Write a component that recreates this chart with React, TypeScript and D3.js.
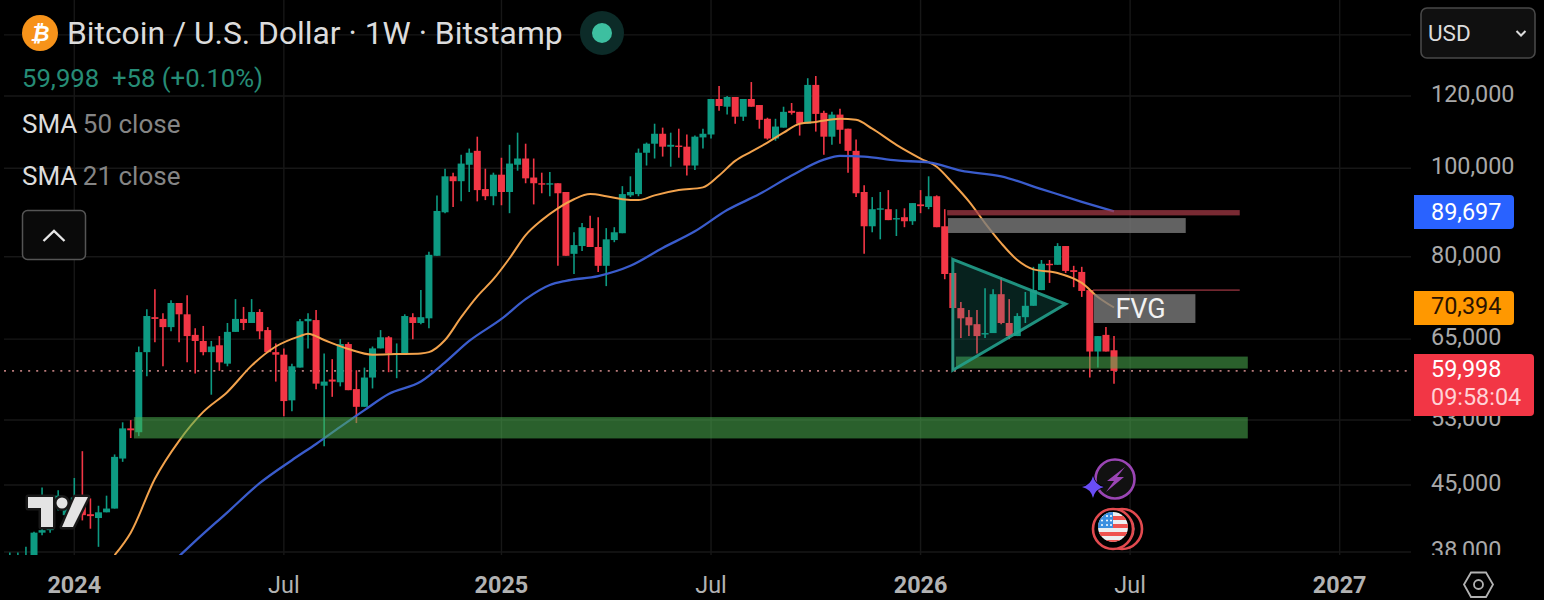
import React from "react";
import * as d3 from "d3";

// Weekly candles, first week shown is index -3
const firstWeek = -3;
const opens = [37000,37000,37000,36300,39900,40150,42700,41700,42700,43600,41800,41400,42000,42400,48100,51900,51400,62900,68700,68400,67000,71200,69200,65700,64700,62900,64000,61100,66200,68400,67700,69600,66500,62900,62500,55700,60500,68000,68200,57800,58700,58300,64200,57300,54800,59000,63500,65300,62500,62700,68700,67700,68500,80200,89500,98000,96800,100900,104500,94900,93200,98400,94200,100900,102500,97700,96300,96100,96300,94200,80600,82200,86000,82000,78200,83450,84900,93400,93700,104000,106400,109100,105600,105900,105600,100700,108100,108900,119100,116800,119700,113900,119100,117300,113300,107800,110800,115600,115300,111900,123400,115000,108300,114500,110500,104500,94200,86400,90200,90200,88000,88400,87500,91300,90700,93200,86400,76800,70300,68700,67500,65900,66000,72800,67700,65500,68700,70700,73550,78600,78400,82200,77350,77000,73550,63000,65700,63200];
const highs = [37950,37950,38500,40000,44700,43300,44400,43600,45800,49000,43500,42700,43800,48600,52700,53000,63800,70100,73700,69400,71700,71200,72600,66800,67200,64700,65500,67700,71900,70500,71900,70100,67000,64300,63500,61100,68400,69400,69950,62700,61800,65000,64500,60100,60500,63800,66500,65500,64300,69200,69400,73550,81000,93400,99900,98900,103500,105100,108300,99900,98900,102700,106100,109400,106400,102500,98900,99100,96300,94200,85100,87100,88700,88400,86000,86200,95600,98000,105100,106700,111900,110800,109400,110500,108900,108600,110500,119100,123100,120000,119700,119100,124300,117300,113600,113300,116800,117900,115300,125500,126200,115600,115300,116200,110500,107500,95800,93000,94200,94650,90200,90400,91600,94650,98000,93400,90200,76800,71400,69950,69950,73900,73700,76000,71900,69400,73200,78000,79350,79350,82800,82200,78200,78000,73550,65500,67000,65500];
const lows = [36500,36500,36800,35400,39650,39900,42200,41150,42200,41150,40300,38500,42000,42400,47700,50650,50900,59200,64500,60700,66300,64500,61300,59600,62400,56500,60000,60700,66200,66500,67700,65000,62900,58400,53500,54200,60500,63500,57300,49600,56200,57700,57150,52600,54800,57400,63500,59800,58900,62500,65000,67500,66800,80200,89300,90700,92000,94200,92000,92300,91100,91100,89300,99400,96300,91300,93900,93200,78200,80200,76600,81200,82000,77000,74300,83000,84900,93000,93200,100700,102500,103000,100400,102700,98200,99600,105100,107800,115600,114500,111900,112700,116800,110500,107500,107200,110800,114500,108600,111900,109700,103500,106100,106400,98900,93000,80600,85100,83600,87750,84300,86200,86700,89300,90200,86200,75600,60100,65200,65500,62700,65200,66000,67500,65000,65500,67700,70700,73550,74900,78400,76800,74100,72300,59000,60500,63000,58100];
const closes = [37600,37600,37500,39900,40150,42700,43800,42700,43600,41700,41600,42000,42400,48300,51900,51650,62900,68900,68400,67000,71200,69200,65500,64700,62900,63800,61300,66200,68400,67700,69600,66300,62900,62500,55600,60700,68000,68400,58100,58400,58400,64200,57150,54800,59000,63500,65300,62700,62700,68900,67700,68700,80400,89800,98000,96800,101200,104000,94650,93200,98400,94200,101200,102500,97500,96300,96100,96300,93900,80200,82400,86200,82000,78200,83600,85100,93700,94200,104000,106400,109100,105600,106100,105600,100700,108300,109100,119100,117000,119700,113900,119100,116800,113000,107800,111100,115300,115000,111900,123400,114700,108300,114500,110200,104500,93900,86400,90200,90400,87750,88200,87500,91600,90900,93200,86200,76600,70300,68500,67300,65500,66000,72800,67700,65500,68900,70700,73550,78600,78400,82200,77200,77000,73400,63000,65500,63000,59998];

const sma21Weeks = [10,12,15,18,21,24,27,30,33,34,36,39,42,45,48,49,51,53,55,57,59,61,63,65,67,69,71,73,75,77,80,83,85,87,89,91,93,95,97,100,102,104,107,110,112,114,116,118,120,122,124,127,130,132,134];
const sma21Values = [37700,39900,45700,50300,54100,56900,60800,63800,65500,65900,64850,63400,62500,62600,62700,62900,64850,68700,72400,75600,79700,84500,87750,90400,92500,93700,93200,92500,92300,93400,94650,95300,98200,101900,104300,106700,109400,111900,112400,113300,113000,110500,106100,102500,100400,96300,92000,87100,82800,79350,77500,76800,74900,72300,70394];
const sma50Weeks = [18,20,24,28,32,35,38,41,44,48,51,54,58,61,64,66,70,74,78,82,86,90,94,98,100,103,107,111,115,120,125,130,134];
const sma50Values = [37600,39050,42000,45200,47900,49900,52100,54350,56600,58400,61300,64700,68400,71900,74500,75300,76200,78200,81800,85300,90000,93700,98200,102200,103200,103000,102000,101500,99400,98000,94900,91900,89697];

const gridPrices = [140000,120000,100000,80000,65000,53000,45000,38000];
const axisPrices = [120000,100000,80000,65000,53000,45000,38000];
const timeWeeks = [5,31,58,84,110,136,162];
const timeLabels = ["2024","Jul","2025","Jul","2026","Jul","2027"];
const timeBold = [true,false,true,false,true,false,true];

const lastClose = 59998;
const sma21Last = 70394;
const sma50Last = 89697;

// Drawn zones: [firstWeek, lastWeek, topPrice, bottomPrice]
const bigZone = [12.4,150.6,53400,50600];
const smallZone = [114.4,150.6,62200,60350];
const maroonBand = [113.3,149.6,90000,88800];
const greyBand = [113.4,142.9,88200,84950];
const fvgBand = [131.5,144.1,72800,67700];
const fvgLine = [131.4,149.6,73700,73400];
const triangleWeeks = [114,128,114];
const trianglePrices = [79500,71000,60100];

const FONT = "Roboto, sans-serif";
const UP = "#0d9a82";
const DOWN = "#f23645";

const x = d3.scaleLinear().domain([0,134]).range([34,1114]);
const y = d3.scaleLog().domain([38000,120000]).range([552,96]);

const fmt = d3.format(",");

const line = (w: number[], v: number[]) =>
  d3.line<number>().x((_, i) => x(w[i])).y((_, i) => y(v[i])).curve(d3.curveMonotoneX)(w) || "";

const zone = (z: number[], fill: string, op: number) => (
  <rect x={x(z[0])} y={y(z[2])} width={x(z[1]) - x(z[0])} height={y(z[3]) - y(z[2])} fill={fill} fillOpacity={op} />
);

function rightRound(xl: number, yt: number, w: number, h: number, r: number) {
  return `M${xl},${yt}H${xl + w - r}Q${xl + w},${yt} ${xl + w},${yt + r}V${yt + h - r}Q${xl + w},${yt + h} ${xl + w - r},${yt + h}H${xl}Z`;
}

export default function App() {
  const lastY = y(lastClose);
  const tri = triangleWeeks.map((w, i) => `${x(w)},${y(trianglePrices[i])}`).join(" ");
  return (
    <svg width={1544} height={600} viewBox="0 0 1544 600" style={{ position: "absolute", left: 0, top: 0, background: "#000", display: "block" }} fontFamily={FONT}>
      <defs>
        <clipPath id="plot"><rect x={4} y={0} width={1407} height={555} /></clipPath>
        <clipPath id="axis"><rect x={1412} y={0} width={132} height={555} /></clipPath>
        <clipPath id="flagC"><circle cx={1113} cy={527} r={15} /></clipPath>
      </defs>
      <rect x={0} y={0} width={1544} height={600} fill="#000" />

      {gridPrices.map((p) => (
        <line key={p} x1={4} x2={1411} y1={y(p)} y2={y(p)} stroke="#171717" strokeWidth={1.4} />
      ))}
      {timeWeeks.map((w, i) => (
        <line key={i} x1={x(w)} x2={x(w)} y1={0} y2={555} stroke="#171717" strokeWidth={1.4} />
      ))}
      <line x1={4} x2={1411} y1={lastY} y2={lastY} stroke="#b87a7a" strokeWidth={1.6} strokeDasharray="2 6.05" />

      <g clipPath="url(#plot)">
        {opens.map((o, i) => {
          const wk = i + firstWeek;
          const c = closes[i];
          const col = c >= o ? UP : DOWN;
          const cx = x(wk);
          const top = y(Math.max(o, c));
          const bot = y(Math.min(o, c));
          return (
            <g key={i}>
              <line x1={cx} x2={cx} y1={y(highs[i])} y2={y(lows[i])} stroke={col} strokeWidth={1.6} />
              <rect x={cx - 3.5} y={top} width={7} height={Math.max(bot - top, 1.4)} fill={col} />
            </g>
          );
        })}
        <path d={line(sma21Weeks, sma21Values)} fill="none" stroke="#f2a24c" strokeWidth={2} />
        <path d={line(sma50Weeks, sma50Values)} fill="none" stroke="#3a5ccc" strokeWidth={2.3} />

        {zone(bigZone, "#4caf50", 0.55)}
        {zone(smallZone, "#4caf50", 0.55)}
        {zone(maroonBand, "#a83a46", 0.72)}
        {zone(greyBand, "#7a7a7a", 0.8)}
        {zone(fvgBand, "#7a7a7a", 0.8)}
        {zone(fvgLine, "#a83a46", 0.72)}
        <polygon points={tri} fill="#22ab94" fillOpacity={0.2} stroke="#22a08c" strokeOpacity={0.9} strokeWidth={3} />
        <text x={x(137.3)} y={y(70100)} textAnchor="middle" dominantBaseline="central" fill="#f2f2f2" fontSize={27}>FVG</text>
      </g>

      {/* TradingView mark */}
      <g fill="#e4e4e4" stroke="#181818" strokeWidth={5} paintOrder="stroke" strokeLinejoin="round">
        <path d="M28,497H53V527H41V508H28Z" />
        <circle cx={62} cy={503} r={5.5} />
        <path d="M75,497H88L73,527H62Z" />
      </g>

      {/* Events */}
      <g>
        <circle cx={1115} cy={479} r={19.5} fill="#111" stroke="#9a45b4" strokeWidth={2.6} />
        <path d="M1125,467L1107,481H1114L1106,492L1124,477H1117Z" fill="#9a45b4" />
        <path d="M1093,476Q1095,485 1104,487Q1095,489 1093,498Q1091,489 1082,487Q1091,485 1093,476Z" fill="#6a4df5" stroke="#000" strokeWidth={1.5} paintOrder="stroke" />
        <circle cx={1122} cy={529} r={20} fill="#000" stroke="#e24a4f" strokeWidth={2.6} />
        <circle cx={1118} cy={529} r={17} fill="#f3c0c0" stroke="#000" strokeWidth={1} />
        <circle cx={1113} cy={529} r={20} fill="#000" stroke="#e24a4f" strokeWidth={2.6} />
        <g clipPath="url(#flagC)">
          <rect x={1098} y={512} width={30} height={30} fill="#eceff1" />
          <rect x={1098} y={516} width={30} height={4} fill="#ef5350" />
          <rect x={1098} y={524} width={30} height={4} fill="#ef5350" />
          <rect x={1098} y={532} width={30} height={4} fill="#ef5350" />
          <rect x={1098} y={540} width={30} height={4} fill="#ef5350" />
          <rect x={1098} y={512} width={15} height={16} fill="#3b8fe0" />
          {[1102, 1107, 1111].map((cx) => [516, 520.5, 525].map((cy) => (
            <circle key={`${cx}-${cy}`} cx={cx} cy={cy} r={1} fill="#fff" />
          )))}
        </g>
      </g>

      {/* Price axis */}
      <g clipPath="url(#axis)">
        {axisPrices.map((p) => (
          <text key={p} x={1431} y={y(p) - 2} dominantBaseline="central" fill="#a9a9a9" fontSize={23.4}>{fmt(p)}</text>
        ))}
      </g>
      <path d={rightRound(1414, 195, 100, 34, 4)} fill="#2962ff" />
      <text x={1431} y={212} dominantBaseline="central" fill="#fff" fontSize={23.4}>{fmt(sma50Last)}</text>
      <path d={rightRound(1414, 291, 100, 34, 4)} fill="#ff9800" />
      <text x={1431} y={306} dominantBaseline="central" fill="#2a1200" fontSize={23.4}>{fmt(sma21Last)}</text>
      <path d={rightRound(1414, 354, 120, 62, 4)} fill="#f23645" />
      <text x={1431} y={369} dominantBaseline="central" fill="#fff" fontSize={23.4}>{fmt(lastClose)}</text>
      <text x={1431} y={397} dominantBaseline="central" fill="#ffd2d6" fontSize={23.4}>09:58:04</text>

      {/* Time axis */}
      {timeWeeks.map((w, i) => (
        <text key={i} x={x(w)} y={585} textAnchor="middle" dominantBaseline="central" fill="#b2b2b2" fontSize={23.4} fontWeight={timeBold[i] ? 700 : 400}>{timeLabels[i]}</text>
      ))}
      <path d="M1464,584.5L1471,572.5H1486L1493,584.5L1486,597H1471Z" fill="none" stroke="#b2b2b2" strokeWidth={1.8} />
      <circle cx={1478.5} cy={584.5} r={4.5} fill="none" stroke="#b2b2b2" strokeWidth={1.8} />

      {/* USD */}
      <rect x={1421} y={8} width={114} height={50} rx={6} fill="#101010" stroke="#484848" strokeWidth={1.6} />
      <text x={1428} y={33} dominantBaseline="central" fill="#dcdcdc" fontSize={22.5}>USD</text>
      <path d="M1516.5,31L1521,35.5L1525.5,31" fill="none" stroke="#dcdcdc" strokeWidth={2} />

      {/* Header */}
      <circle cx={40} cy={33} r={18} fill="#f7931a" />
      <text x={40} y={33.5} textAnchor="middle" dominantBaseline="central" fill="#fff" fontSize={22} fontWeight={700} fontStyle="italic">₿</text>
      <text x={67} y={33} dominantBaseline="central" fill="#dcdcdc" fontSize={31.8}>Bitcoin / U.S. Dollar · 1W · Bitstamp</text>
      <circle cx={602} cy={33} r={22} fill="#0c2b28" />
      <circle cx={602} cy={33} r={10} fill="#3dbfa0" />
      <text x={22} y={78} dominantBaseline="central" fill="#268c76" fontSize={25.7} xmlSpace="preserve">59,998  +58 (+0.10%)</text>
      <text x={22} y={124} dominantBaseline="central" fontSize={26} fill="#dcdcdc">SMA <tspan fill="#858585" dx={-1}>50 close</tspan></text>
      <text x={22} y={176} dominantBaseline="central" fontSize={26} fill="#dcdcdc">SMA <tspan fill="#858585" dx={-1}>21 close</tspan></text>
      <rect x={22.5} y={210.5} width={63} height={49} rx={5} fill="#0a0a0a" stroke="#555" strokeWidth={1.5} />
      <path d="M43.5,241L54,231L64.5,241" fill="none" stroke="#e6e6e6" strokeWidth={2.4} />
    </svg>
  );
}
